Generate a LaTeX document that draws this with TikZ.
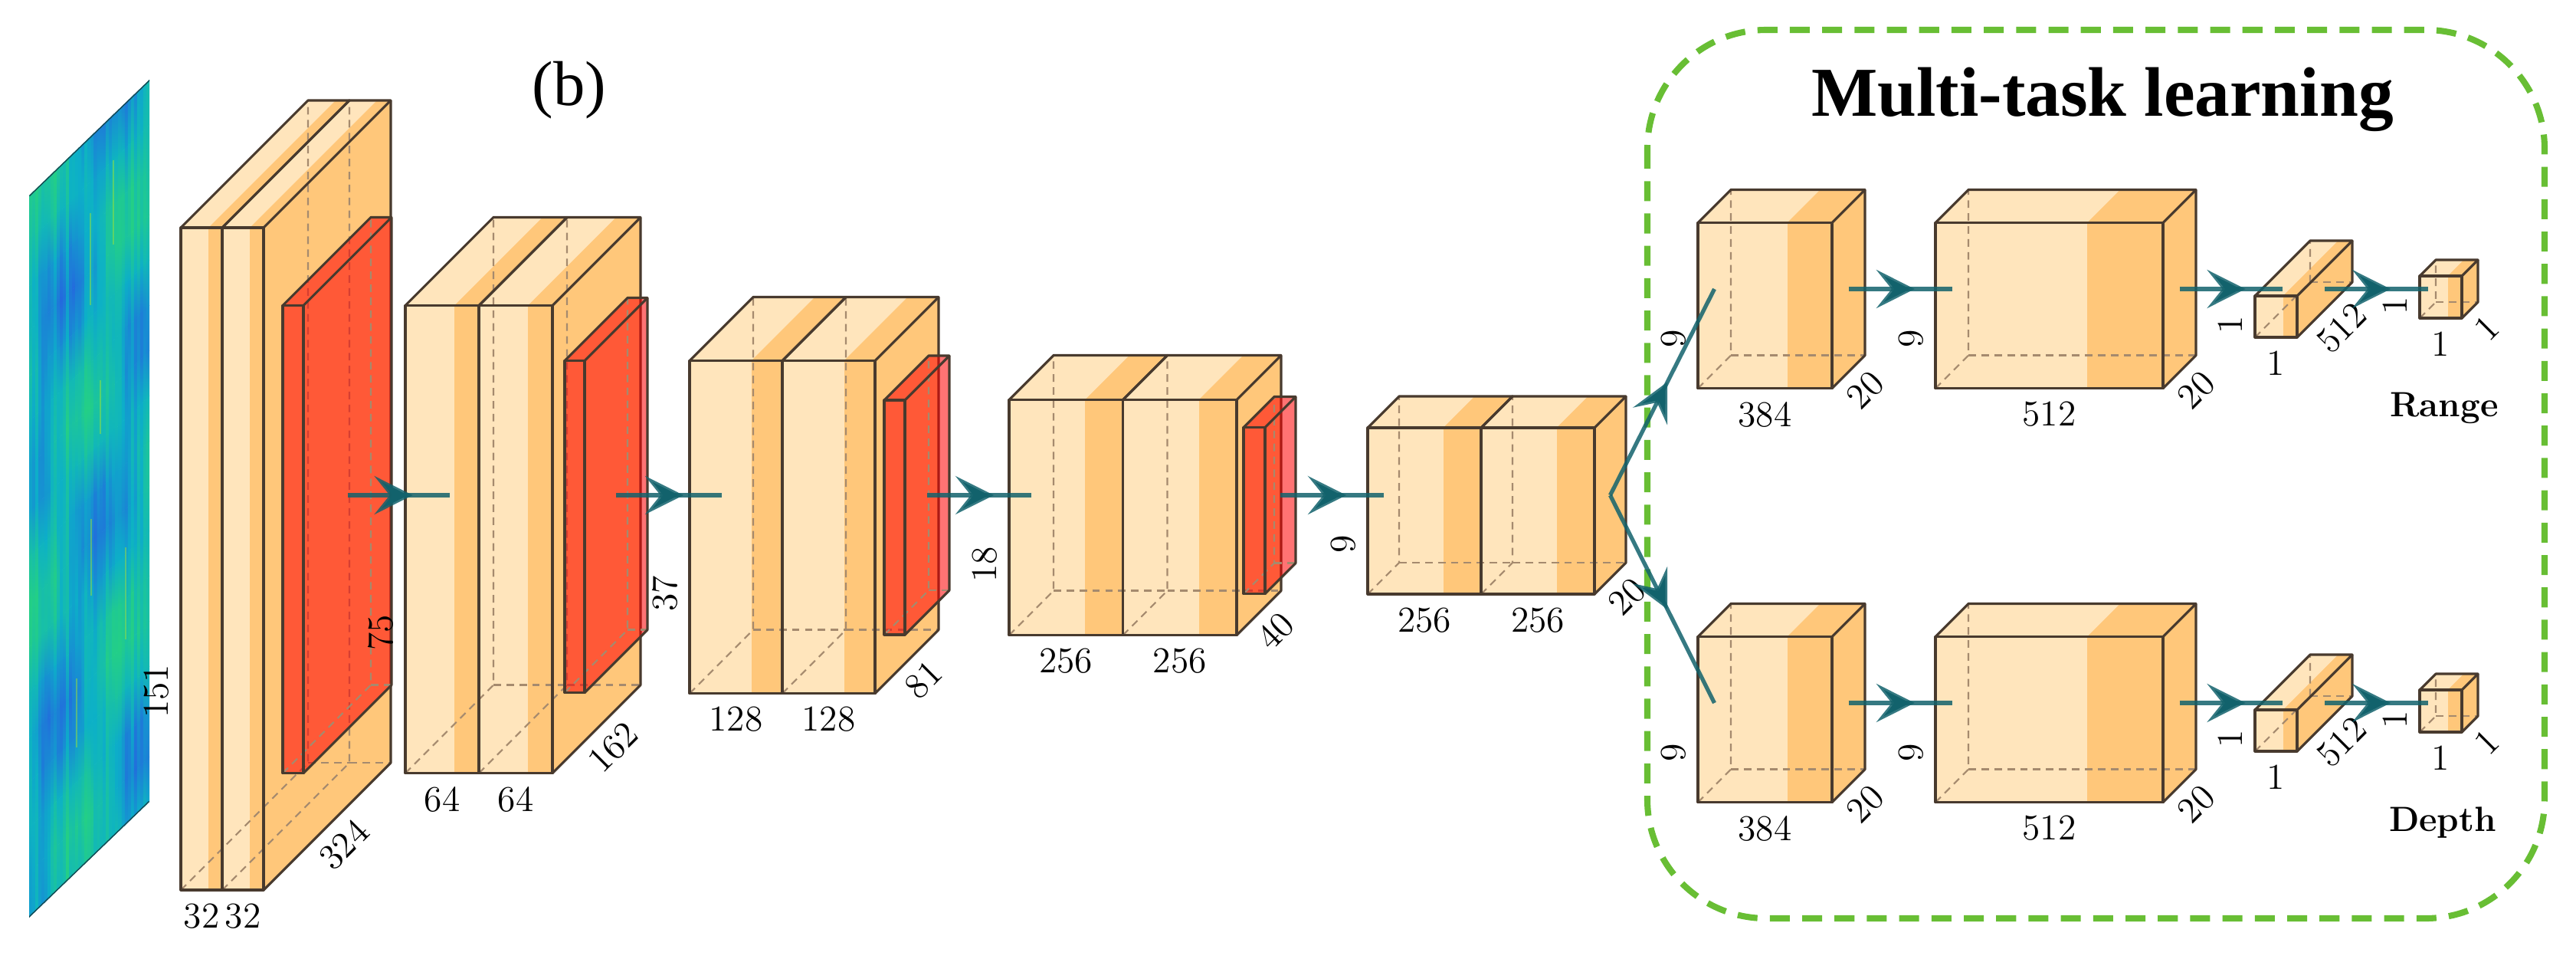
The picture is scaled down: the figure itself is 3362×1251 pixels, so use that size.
\documentclass[tikz,border=0pt]{standalone}
\usepackage{fontspec}
\newfontfamily\timesfont{Liberation Serif}
\usetikzlibrary{arrows.meta,decorations.markings}

\definecolor{convlight}{RGB}{255,229,188}
\definecolor{convband}{RGB}{255,199,122}
\definecolor{edgecol}{RGB}{72,58,46}
\definecolor{hiddencol}{RGB}{165,138,110}
\definecolor{conncol}{RGB}{18,98,108}
\definecolor{mtlgreen}{RGB}{104,190,52}
\definecolor{specblue}{RGB}{36,104,222}
\definecolor{speccyan}{RGB}{12,176,200}
\definecolor{specgreen}{RGB}{36,208,132}
\definecolor{specline}{RGB}{170,232,40}
\definecolor{specedge}{RGB}{22,72,82}

\tikzset{
  conv face/.style={fill=convlight},
  conv band/.style={fill=convband},
  conv side/.style={fill=convband},
  pool face/.style={fill=red,fill opacity=0.55},
  pool band/.style={fill=none},
  pool side/.style={fill=red,fill opacity=0.55},
  edge/.style={draw=edgecol,line width=0.9pt,line join=round},
  hidden/.style={draw=hiddencol,line width=0.6pt,dash pattern=on 2.8pt off 2pt},
  conn/.style={draw=conncol,line width=1.5pt,draw opacity=0.85,
    postaction={decorate,decoration={markings,
      mark=at position #1 with {\arrow[conncol]{Stealth[length=5mm,width=5mm,inset=2mm]}}}}},
  conn/.default=0.64,
  dimlab/.style={font=\fontsize{13.5}{14}\selectfont,inner sep=0pt},
}

% cuboid: x0, slab width, slabs, height, depth, line y, kind
\newcommand{\cuboid}[7]{%
  \pgfmathsetmacro\cbR{#1+#3*#2}%
  \pgfmathsetmacro\cbB{#6+#5/2+#4/2}%
  \pgfmathsetmacro\cbT{\cbB-#4}%
  \fill[#7 face] (#1,\cbT) rectangle (\cbR,\cbB);
  \fill[#7 face] (#1,\cbT) -- ++(#5,-#5) -- ({\cbR+#5},{\cbT-#5}) -- (\cbR,\cbT) -- cycle;
  \fill[#7 side] (\cbR,\cbT) -- ++(#5,-#5) -- ++(0,#4) -- (\cbR,\cbB) -- cycle;
  \foreach \k in {1,...,#3} {
    \pgfmathsetmacro\cbu{#1+(\k-1/3)*#2}
    \pgfmathsetmacro\cbv{#1+\k*#2}
    \fill[#7 band] (\cbu,\cbT) rectangle (\cbv,\cbB);
    \fill[#7 band] (\cbu,\cbT) -- ++(#5,-#5) -- ({\cbv+#5},{\cbT-#5}) -- (\cbv,\cbT) -- cycle;
  }
  \foreach \k in {1,...,#3} {
    \pgfmathsetmacro\cbu{#1+(\k-1)*#2}
    \draw[hidden] (\cbu,\cbB) -- ++(#5,-#5) -- ++(0,-#4);
    \draw[hidden] ({\cbu+#5},{\cbB-#5}) -- ++(#2,0);
  }
  \foreach \k in {1,...,#3} {
    \pgfmathsetmacro\cbu{#1+(\k-1)*#2}
    \draw[edge] (\cbu,\cbT) rectangle ++(#2,#4);
    \draw[edge] (\cbu,\cbT) -- ++(#5,-#5) -- ++(#2,0) -- ++(-#5,#5);
  }
  \draw[edge] (\cbR,\cbT) ++(#5,-#5) -- ++(0,#4) -- (\cbR,\cbB);
}

% conv block: name, x0, slab width, height, depth, line y, widths, height label, depth label
\newcommand{\convblock}[9]{%
  \foreach \lab [count=\k] in {#7} {\xdef\nslabs{\k}}%
  \cuboid{#2}{#3}{\nslabs}{#4}{#5}{#6}{conv}
  \coordinate (#1-west) at ({#2+#5/2},#6);
  \coordinate (#1-east) at ({#2+\nslabs*#3+#5/2},#6);
  \foreach \lab [count=\k] in {#7}
    \node[dimlab] (#1-w\k) at ({#2+(\k-0.5)*#3},{#6+#5/2+#4/2+34}) {\lab};
  \node[dimlab,rotate=90] (#1-h) at ({#2-32},{#6+#5/2+0.2*#4}) {#8};
  \node[dimlab,rotate=45] (#1-d) at ({#2+\nslabs*#3+#5/2+22},{#6+#4/2+24}) {#9};
}

% pooling block: name, x0, width, height, depth, line y
\newcommand{\poolblock}[6]{%
  \cuboid{#2}{#3}{1}{#4}{#5}{#6}{pool}
  \coordinate (#1-west) at ({#2+#5/2},#6);
  \coordinate (#1-east) at ({#2+#3+#5/2},#6);
}

% spectrogram colour for a value 0..99 (blue - cyan - green), stored in #2
\newcommand{\speccol}[2]{%
  \ifnum#1<50 \pgfmathtruncatemacro\spmix{2*#1}\xdef#2{speccyan!\spmix!specblue}%
  \else \pgfmathtruncatemacro\spmix{2*#1-100}\xdef#2{specgreen!\spmix!speccyan}\fi}

\begin{document}
\begin{tikzpicture}[x=0.01cm,y=-0.01cm]
  \useasboundingbox (0,0) rectangle (3362,1251);

  % multi-task frame
  \draw[mtlgreen,line width=2.3pt,dash pattern=on 7.4pt off 4.6pt,rounded corners=1.55cm] (2150,39) rectangle (3321,1198);
  \node[font=\timesfont\bfseries\fontsize{26}{28}\selectfont,anchor=base] (mtl) at (2744,151) {Multi-task learning};
  \node[font=\timesfont\fontsize{23.5}{26}\selectfont,anchor=base] (sub) at (743,137) {(b)};

  % input spectrogram
  \begin{scope}[shift={(38,255)},yslant=0.9618]
    \clip (0,0) rectangle (157,942);
    \pgfmathsetseed{7}
    \foreach \i in {0,...,38} {
      \pgfmathsetmacro\colr{rnd-0.5}
      \pgfmathsetmacro\uu{(\i+0.5)*4.0256}
      \pgfmathtruncatemacro\va{max(0,min(99,100*(0.55+0.22*sin(2.3*\uu+40)+0.18*sin(-1.7*\uu+120)+0.3*\colr+0.12*(rnd-0.5))))}
      \xdef\va{\va}
      \foreach \j in {1,...,16} {
        \pgfmathsetmacro\vv{\j*58.875}
        \pgfmathtruncatemacro\vb{max(0,min(99,100*(0.55+0.22*sin(2.3*\uu+0.7*\vv+40)+0.18*sin(-1.7*\uu+1.3*\vv+120)+0.3*\colr+0.12*(rnd-0.5))))}
        \speccol{\va}{\ca}\speccol{\vb}{\cb}
        \shade[top color=\ca,bottom color=\cb] ({\i*4.0256},{(\j-1)*58.875}) rectangle ({(\i+1)*4.0256+0.6},{\j*58.875+0.6});
        \xdef\va{\vb}
      }
    }
    \foreach \u/\a/\b in {80/100/220,93/330/400,81/500/600,126/580/700,62/690/780,110/60/170}
      \draw[specline,line width=0.8pt,opacity=0.45] (\u,\a) -- (\u,\b);
    \draw[specedge,line width=0.8pt] (0,0) -- (157,0) (0,942) -- (157,942);
  \end{scope}

  % shared trunk
  \convblock{c1}{236}{54}{864}{166}{646}{32,32}{151}{324}
  \poolblock{p1}{369}{27}{610}{115}{646}
  \convblock{c2}{529}{96}{610}{115}{646}{64,64}{75}{162}
  \poolblock{p2}{737}{26}{433}{82}{646}
  \convblock{c3}{900}{121}{434}{83}{646}{128,128}{37}{81}
  \poolblock{p3}{1154}{27}{306}{58}{646}
  \convblock{c4}{1317}{148.5}{307}{58}{646}{256,256}{18}{40}
  \poolblock{p4}{1623}{28}{217}{40}{646}
  \convblock{c5}{1785}{148}{217}{41}{646}{256,256}{9}{20}

  % range head
  \convblock{ra}{2216}{175}{216}{43}{377}{384}{9}{20}
  \convblock{rb}{2526}{297}{216}{43}{377}{512}{9}{20}
  \convblock{rc}{2943}{55}{54}{72}{377}{1}{1}{512}
  \convblock{rd}{3158}{55}{55}{21}{377}{1}{1}{1}
  \node[font=\bfseries\fontsize{13}{14}\selectfont,anchor=base] (range) at (3190,543) {Range};

  % depth head
  \convblock{da}{2216}{175}{216}{43}{917}{384}{9}{20}
  \convblock{db}{2526}{297}{216}{43}{917}{512}{9}{20}
  \convblock{dc}{2943}{55}{54}{72}{917}{1}{1}{512}
  \convblock{dd}{3158}{55}{55}{21}{917}{1}{1}{1}
  \node[font=\bfseries\fontsize{13}{14}\selectfont,anchor=base] (depth) at (3188,1084) {Depth};

  % connections
  \draw[conn] (p1-east) -- (c2-west);
  \draw[conn] (p2-east) -- (c3-west);
  \draw[conn] (p3-east) -- (c4-west);
  \draw[conn] (p4-east) -- (c5-west);
  \draw[conn=0.55] (c5-east) -- (ra-west);
  \draw[conn=0.55] (c5-east) -- (da-west);
  \draw[conn] (ra-east) -- (rb-west);
  \draw[conn] (rb-east) -- (rc-west);
  \draw[conn] (rc-east) -- (rd-west);
  \draw[conn] (da-east) -- (db-west);
  \draw[conn] (db-east) -- (dc-west);
  \draw[conn] (dc-east) -- (dd-west);
\end{tikzpicture}
\end{document}
